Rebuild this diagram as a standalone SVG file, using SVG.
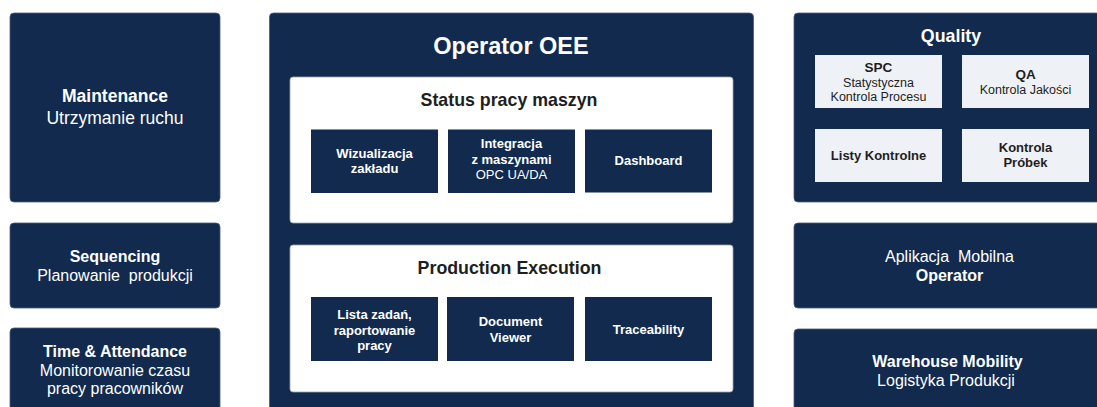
<svg xmlns="http://www.w3.org/2000/svg" width="1097" height="407" viewBox="0 0 1097 407">
<style>
text{font-family:"Liberation Sans",Arial,sans-serif;text-anchor:middle}
.nav{fill:#112a4e;stroke:#4a5d7a;stroke-width:0.8}
.sub{fill:#112a4e}
.wht{fill:#ffffff;stroke:#9aa6b8;stroke-width:0.8}
.lt{fill:#eef1f5}
.w{fill:#ffffff}
.d{fill:#1e1e1e}
.b{font-weight:bold}
</style>
<rect width="1097" height="407" fill="#ffffff"/>
<g id="maintenance">
<rect class="nav" x="10" y="13" width="210" height="189" rx="4"/>
<text class="w b" x="115" y="102" font-size="17.5">Maintenance</text>
<text class="w" x="115" y="124" font-size="17.5">Utrzymanie ruchu</text>
</g>
<g id="sequencing">
<rect class="nav" x="10" y="223" width="210" height="85" rx="4"/>
<text class="w b" x="115" y="262" font-size="16">Sequencing</text>
<text class="w" x="115" y="281" font-size="16" xml:space="preserve">Planowanie  produkcji</text>
</g>
<g id="time-attendance">
<rect class="nav" x="10" y="328" width="210" height="100" rx="4"/>
<text class="w b" x="115" y="357" font-size="16">Time &amp; Attendance</text>
<text class="w" x="115" y="375.5" font-size="16">Monitorowanie czasu</text>
<text class="w" x="115" y="393.5" font-size="16">pracy pracowników</text>
</g>
<g id="operator-oee">
<rect class="nav" x="269.5" y="13" width="484" height="420" rx="4"/>
<text class="w b" x="511" y="54" font-size="23.5">Operator OEE</text>
</g>
<g id="status-pracy-maszyn">
<rect class="wht" x="290" y="77" width="443" height="146" rx="3"/>
<text class="d b" x="509" y="106" font-size="17.8">Status pracy maszyn</text>
</g>
<g id="wizualizacja">
<rect class="sub" x="311" y="129.5" width="127" height="63.5"/>
<text class="w b" x="374.5" y="157.5" font-size="13">Wizualizacja</text>
<text class="w b" x="374.5" y="172.5" font-size="13">zakładu</text>
</g>
<g id="integracja">
<rect class="sub" x="448" y="129.5" width="127" height="63.5"/>
<text class="w b" x="511.5" y="148" font-size="13">Integracja</text>
<text class="w b" x="511.5" y="163.5" font-size="13">z maszynami</text>
<text class="w" x="511.5" y="179" font-size="13">OPC UA/DA</text>
</g>
<g id="dashboard">
<rect class="sub" x="585" y="129.5" width="127" height="63"/>
<text class="w b" x="648.5" y="165" font-size="13">Dashboard</text>
</g>
<g id="production-execution">
<rect class="wht" x="290" y="245" width="443" height="147" rx="3"/>
<text class="d b" x="509.5" y="273.5" font-size="17.8">Production Execution</text>
</g>
<g id="lista-zadan">
<rect class="sub" x="311" y="297" width="127" height="64"/>
<text class="w b" x="374.5" y="319" font-size="13">Lista zadań,</text>
<text class="w b" x="374.5" y="334.5" font-size="13">raportowanie</text>
<text class="w b" x="374.5" y="350" font-size="13">pracy</text>
</g>
<g id="document-viewer">
<rect class="sub" x="447" y="297" width="127" height="64"/>
<text class="w b" x="510.5" y="326" font-size="13">Document</text>
<text class="w b" x="510.5" y="341.5" font-size="13">Viewer</text>
</g>
<g id="traceability">
<rect class="sub" x="585" y="297" width="127" height="64"/>
<text class="w b" x="648.5" y="333.5" font-size="13">Traceability</text>
</g>
<g id="quality">
<rect class="nav" x="794" y="13" width="316" height="189" rx="4"/>
<text class="w b" x="951" y="42" font-size="17.8">Quality</text>
</g>
<g id="spc">
<rect class="lt" x="815" y="55" width="127" height="53"/>
<text class="d b" x="878.5" y="71.5" font-size="13.5">SPC</text>
<text class="d" x="878.5" y="86.5" font-size="12.5">Statystyczna</text>
<text class="d" x="878.5" y="100.5" font-size="12.5">Kontrola Procesu</text>
</g>
<g id="qa">
<rect class="lt" x="962" y="55" width="127" height="53"/>
<text class="d b" x="1025.5" y="79" font-size="13.5">QA</text>
<text class="d" x="1025.5" y="93.5" font-size="12.5">Kontrola Jakości</text>
</g>
<g id="listy-kontrolne">
<rect class="lt" x="815" y="129" width="127" height="53"/>
<text class="d b" x="878.5" y="159.5" font-size="13">Listy Kontrolne</text>
</g>
<g id="kontrola-probek">
<rect class="lt" x="962" y="129" width="127" height="53"/>
<text class="d b" x="1025.5" y="152" font-size="13">Kontrola</text>
<text class="d b" x="1025.5" y="167" font-size="13">Próbek</text>
</g>
<g id="aplikacja-mobilna">
<rect class="nav" x="794" y="223" width="316" height="85" rx="4"/>
<text class="w" x="949.5" y="262" font-size="16" xml:space="preserve">Aplikacja  Mobilna</text>
<text class="w b" x="949.5" y="281" font-size="16">Operator</text>
</g>
<g id="warehouse-mobility">
<rect class="nav" x="794" y="329" width="316" height="100" rx="4"/>
<text class="w b" x="947.5" y="366.5" font-size="16">Warehouse Mobility</text>
<text class="w" x="946" y="386" font-size="16">Logistyka Produkcji</text>
</g>
<g id="connectors"/>
</svg>
